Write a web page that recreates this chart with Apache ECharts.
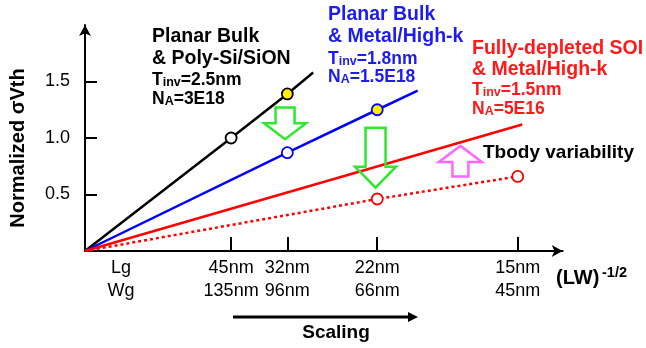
<!DOCTYPE html>
<html>
<head>
<meta charset="utf-8">
<script src="https://cdn.jsdelivr.net/npm/echarts@6/dist/echarts.min.js"></script>
<style>
html,body{margin:0;padding:0;background:#fff;}
#c{width:646px;height:348px;}
</style>
</head>
<body>
<div id="c"></div>
<script>
// Technology nodes on the (LW)^-1/2 axis (1/um)
const nodeX = [13.0, 18.0, 26.0, 38.5];
const lgLabels = ['45nm', '32nm', '22nm', '15nm'];
const wgLabels = ['135nm', '96nm', '66nm', '45nm'];
const gateLabelX = 3.2;
const yTicks = [0.5, 1.0, 1.5];

// Normalized sigma-Vth trends [x, y]
const polySiON = [[0, 0], [13.0, 1.00], [18.0, 1.39], [20.3, 1.58]];
const bulkHK = [[0, 0], [18.0, 0.87], [26.0, 1.25], [29.6, 1.42]];
const fdsoiHK = [[0, 0], [38.9, 1.12]];
const fdsoiTbody = [[0, 0], [26.0, 0.46], [38.5, 0.66]];

// Circled nodes [x, y, highlighted]
const polyPts = [[13.0, 1.00, 0], [18.0, 1.39, 1]];
const hkPts = [[18.0, 0.87, 0], [26.0, 1.25, 1]];
const tbodyPts = [[26.0, 0.46, 0], [38.5, 0.66, 0]];

// Block arrows: x, start y, tip y
const arrows = [
  { x: 17.8, y0: 1.27, y1: 0.99, sw: 9.5, hw: 21, hl: 16, color: '#2ee82e' },
  { x: 25.85, y0: 1.09, y1: 0.56, sw: 10, hw: 20.5, hl: 21, color: '#2ee82e' },
  { x: 33.4, y0: 0.66, y1: 0.93, sw: 8, hw: 21.5, hl: 16, color: '#ff66ff' }
];

const FONT = '"Liberation Sans", Arial, sans-serif';
const BLUE = '#1c1cf0';
const RED = '#ff1a1a';

const chart = echarts.init(document.getElementById('c'), null, { renderer: 'canvas' });

function lineSeries(data, color, dashed) {
  return {
    type: 'line', data: data, showSymbol: false, symbol: 'none', silent: true,
    lineStyle: { color: color, width: 2.5, type: dashed ? [3, 3] : 'solid' },
    z: 2
  };
}
function dotSeries(data, color) {
  return {
    type: 'scatter', data: data, symbol: 'circle', symbolSize: 11, silent: true,
    itemStyle: {
      color: p => (p.data[2] ? '#ffee00' : '#ffffff'),
      borderColor: color, borderWidth: 1.8, opacity: 1
    },
    z: 4
  };
}

chart.setOption({
  animation: false,
  grid: { left: 85, top: 25, width: 477.7, height: 226, containLabel: false },
  xAxis: {
    type: 'value', min: 0, max: 42.5,
    splitLine: { show: false },
    axisLine: { show: true, onZero: false, symbol: ['none', 'arrow'], symbolSize: [9, 11],
      lineStyle: { color: '#000', width: 2 } },
    axisTick: { show: true, inside: true, length: 14, customValues: nodeX,
      lineStyle: { color: '#000', width: 2 } },
    axisLabel: {
      show: true, customValues: [gateLabelX].concat(nodeX), margin: 6,
      color: '#000', fontFamily: FONT, fontSize: 18, lineHeight: 23,
      formatter: v => {
        if (Math.abs(v - gateLabelX) < 1e-6) return 'Lg\nWg';
        const i = nodeX.findIndex(n => Math.abs(n - v) < 1e-6);
        return i >= 0 ? lgLabels[i] + '\n' + wgLabels[i] : '';
      }
    }
  },
  yAxis: {
    type: 'value', min: 0, max: 2.0,
    splitLine: { show: false },
    axisLine: { show: true, onZero: false, symbol: ['none', 'arrow'], symbolSize: [9, 11],
      lineStyle: { color: '#000', width: 2 } },
    axisTick: { show: true, inside: true, length: 12, customValues: yTicks,
      lineStyle: { color: '#000', width: 2 } },
    axisLabel: {
      show: true, customValues: yTicks, margin: 15,
      color: '#000', fontFamily: FONT, fontSize: 18,
      formatter: v => v.toFixed(1)
    }
  },
  series: [
    lineSeries(polySiON, '#000000'),
    lineSeries(bulkHK, '#0000ff'),
    lineSeries(fdsoiHK, '#ff0000'),
    lineSeries(fdsoiTbody, '#ff0000', true),
    dotSeries(polyPts, '#000000'),
    dotSeries(hkPts, '#0000ff'),
    dotSeries(tbodyPts, '#ff0000')
  ]
});

// Annotations
const toPx = (x, y) => chart.convertToPixel({ gridIndex: 0 }, [x, y]);

function blockArrow(a) {
  const p0 = toPx(a.x, a.y0), p1 = toPx(a.x, a.y1);
  const cx = p0[0], y0 = p0[1], y1 = p1[1];
  const d = y1 > y0 ? 1 : -1;
  const yb = y1 - d * a.hl;
  return {
    type: 'polygon', z: 3, silent: true,
    shape: { points: [
      [cx - a.sw, y0], [cx + a.sw, y0], [cx + a.sw, yb], [cx + a.hw, yb],
      [cx, y1], [cx - a.hw, yb], [cx - a.sw, yb]
    ] },
    style: { fill: 'none', stroke: a.color, lineWidth: 2.5, lineJoin: 'miter' }
  };
}

function txt(x, y, text, color, size, extra) {
  return Object.assign({
    type: 'text', z: 10, silent: true, x: x, y: y,
    style: {
      text: text, fill: color, fontFamily: FONT, fontSize: size, fontWeight: 'bold',
      verticalAlign: 'middle', align: 'left'
    }
  }, extra || {});
}

// Big and small-cap tokens share one baseline
function richParams(big, small, color) {
  return {
    b: { fontSize: big, fontWeight: 'bold', fontFamily: FONT, color: color,
      lineHeight: big, verticalAlign: 'bottom' },
    s: { fontSize: small, fontWeight: 'bold', fontFamily: FONT, color: color,
      lineHeight: small + 1.5, verticalAlign: 'bottom' }
  };
}

function paramLine(x, y, pre, sub, post, color) {
  return {
    type: 'text', z: 10, silent: true, x: x, y: y,
    style: {
      text: '{b|' + pre + '}{s|' + sub + '}{b|' + post + '}',
      rich: richParams(17.5, 12.5, color),
      verticalAlign: 'middle', align: 'left', fill: color
    }
  };
}

function block(x, ys, title1, title2, tinv, na, color) {
  return [
    txt(x, ys[0], title1, color, 19.5),
    txt(x, ys[1], title2, color, 19.5),
    paramLine(x, ys[2], 'T', 'inv', '=' + tinv, color),
    paramLine(x, ys[3], 'N', 'A', '=' + na, color)
  ];
}

const scaleStart = 233, scaleEnd = 418, scaleY = 317;

const graphics = []
  .concat(arrows.map(blockArrow))
  .concat(block(152, [37, 59, 80, 99], 'Planar Bulk', '& Poly-Si/SiON', '2.5nm', '3E18', '#000000'))
  .concat(block(328, [15, 37, 59, 77], 'Planar Bulk', '& Metal/High-k', '1.8nm', '1.5E18', BLUE))
  .concat(block(472, [49, 70, 90, 109], 'Fully-depleted SOI', '& Metal/High-k', '1.5nm', '5E16', RED))
  .concat([
    txt(483, 153, 'Tbody variability', '#000', 19),
    {
      type: 'text', z: 10, silent: true, x: 18, y: 148, rotation: Math.PI / 2,
      style: { text: 'Normalized σVth', fill: '#000', fontFamily: FONT, fontSize: 20,
        fontWeight: 'bold', align: 'center', verticalAlign: 'middle' }
    },
    txt(556, 278, '(LW)', '#000', 20),
    txt(602, 273, '-1/2', '#000', 14.5),
    {
      type: 'line', z: 10, silent: true,
      shape: { x1: scaleStart, y1: scaleY, x2: scaleEnd - 8, y2: scaleY },
      style: { stroke: '#000', lineWidth: 3 }
    },
    {
      type: 'polygon', z: 10, silent: true,
      shape: { points: [[scaleEnd - 10, scaleY - 5], [scaleEnd, scaleY], [scaleEnd - 10, scaleY + 5]] },
      style: { fill: '#000' }
    },
    {
      type: 'text', z: 10, silent: true, x: 336, y: 333,
      style: { text: 'Scaling', fill: '#000', fontFamily: FONT, fontSize: 19, fontWeight: 'bold',
        align: 'center', verticalAlign: 'middle' }
    }
  ]);

chart.setOption({ graphic: graphics });
</script>
</body>
</html>
